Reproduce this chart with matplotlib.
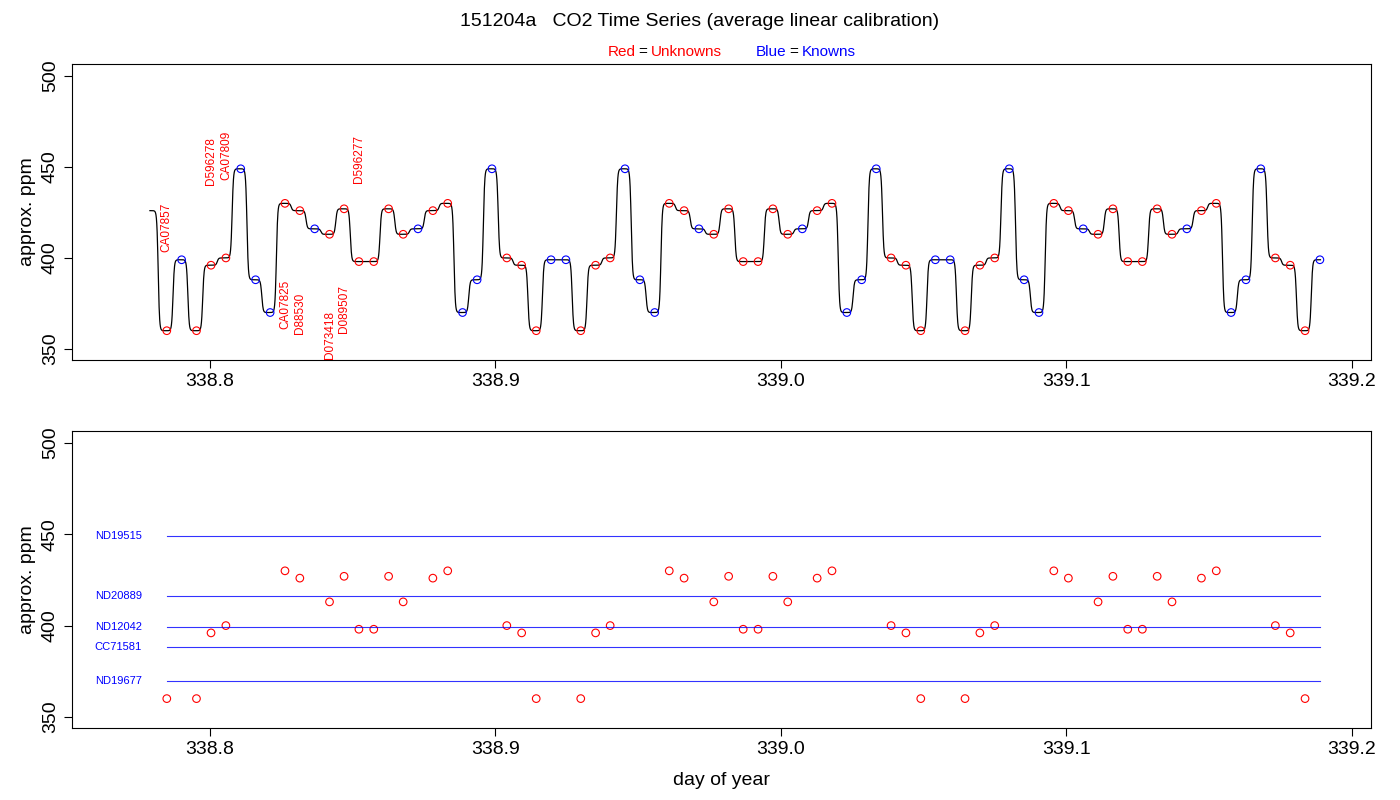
import numpy as np
import matplotlib.pyplot as plt

plt.rcParams["font.family"] = "Liberation Sans"

# sample times (day of year), end of each plateau
times = [
    338.7849, 338.7901, 338.7953, 338.8004, 338.8056, 338.8108, 338.8160, 338.8211,
    338.8263, 338.8315, 338.8367, 338.8419, 338.8470, 338.8522, 338.8574, 338.8626,
    338.8677, 338.8729, 338.8781, 338.8833, 338.8885, 338.8936, 338.8988, 338.9040,
    338.9092, 338.9143, 338.9195, 338.9247, 338.9299, 338.9351, 338.9402, 338.9454,
    338.9506, 338.9558, 338.9609, 338.9661, 338.9713, 338.9765, 338.9817, 338.9868,
    338.9920, 338.9972, 339.0024, 339.0075, 339.0127, 339.0179, 339.0231, 339.0283,
    339.0334, 339.0386, 339.0438, 339.0490, 339.0541, 339.0593, 339.0645, 339.0697,
    339.0749, 339.0800, 339.0852, 339.0904, 339.0956, 339.1007, 339.1059, 339.1111,
    339.1163, 339.1215, 339.1266, 339.1318, 339.1370, 339.1422, 339.1473, 339.1525,
    339.1577, 339.1629, 339.1681, 339.1732, 339.1784, 339.1836, 339.1888,
]
ppm = [
    360, 399, 360, 396, 400, 449, 388, 370, 430, 426, 416, 413, 427, 398, 398, 427,
    413, 416, 426, 430, 370, 388, 449, 400, 396, 360, 399, 399, 360, 396, 400, 449,
    388, 370, 430, 426, 416, 413, 427, 398, 398, 427, 413, 416, 426, 430, 370, 388,
    449, 400, 396, 360, 399, 399, 360, 396, 400, 449, 388, 370, 430, 426, 416, 413,
    427, 398, 398, 427, 413, 416, 426, 430, 370, 388, 449, 400, 396, 360, 399,
]
is_known = [
    0, 1, 0, 0, 0, 1, 1, 1, 0, 0, 1, 0, 0, 0, 0, 0,
    0, 1, 0, 0, 1, 1, 1, 0, 0, 0, 1, 1, 0, 0, 0, 1,
    1, 1, 0, 0, 1, 0, 0, 0, 0, 0, 0, 1, 0, 0, 1, 1,
    1, 0, 0, 0, 1, 1, 0, 0, 0, 1, 1, 1, 0, 0, 1, 0,
    0, 0, 0, 0, 0, 1, 0, 0, 1, 1, 1, 0, 0, 0, 1,
]
trace_start = 426.0

known_names = ["ND19515", "ND20889", "ND12042", "CC71581", "ND19677"]
known_ppm = [449.2, 416.3, 399.3, 388.3, 369.7]

label_names = ["CA07857", "D596278", "CA07809", "D596277",
               "CA07825", "D88530", "D073418", "D089507"]
label_x = [338.7849, 338.8004, 338.8056, 338.8522,
           338.8263, 338.8315, 338.8419, 338.8470]
label_y = [403, 440, 443, 441, 388, 381, 371, 385]
label_above = [True, True, True, True, False, False, False, False]

t = np.array(times)
y = np.array(ppm, dtype=float)
known = np.array(is_known, dtype=bool)

# continuous trace: smooth steps between plateaus
dt = np.median(np.diff(t))
tt = np.linspace(338.779, t[-1] + 0.0002, 6000)
trace = np.full_like(tt, trace_start)
start = np.r_[t[0] - dt, t[:-1]]
prev = np.r_[trace_start, y[:-1]]
for s, p, v in zip(start, prev, y):
    step = 1 / (1 + np.exp(-(tt - (s + 0.42 * dt)) / (0.045 * dt)))
    trace = np.where(tt > s, p + (v - p) * step, trace)

fig = plt.figure(figsize=(14, 8), dpi=100)
ax1 = fig.add_axes([72 / 1400, 1 - 360 / 800, 1299 / 1400, 296 / 800])
ax2 = fig.add_axes([72 / 1400, 1 - 728 / 800, 1299 / 1400, 297 / 800])

ax1.plot(tt, trace, color="black", lw=0.9)
ax1.scatter(t[~known], y[~known], s=30, facecolors="none", edgecolors="red", lw=0.8, zorder=3)
ax1.scatter(t[known], y[known], s=30, facecolors="none", edgecolors="blue", lw=0.8, zorder=3)
for name, lx, ly, up in zip(label_names, label_x, label_y, label_above):
    ax1.text(lx, ly, name, rotation=90, color="red", fontsize=8.5,
             ha="center", va="bottom" if up else "top")

for kp, kn in zip(known_ppm, known_names):
    ax2.plot([t[0], t[-1]], [kp, kp], color="blue", lw=0.8, alpha=0.8)
    ax2.text(338.7597, kp, kn, color="blue", fontsize=8, ha="left", va="center")
ax2.scatter(t[~known], y[~known], s=30, facecolors="none", edgecolors="red", lw=0.8)

for ax in (ax1, ax2):
    ax.set_xlim(338.7517, 339.2067)
    ax.set_ylim(343.9, 506.6)
    ax.set_xticks([338.8, 338.9, 339.0, 339.1, 339.2])
    ax.set_xticklabels(["338.8", "338.9", "339.0", "339.1", "339.2"])
    ax.set_yticks([350, 400, 450, 500])
    ax.set_yticklabels(["350", "400", "450", "500"], rotation=90, va="center")
    ax.tick_params(labelsize=14, length=6)
    ax.set_ylabel("approx. ppm", fontsize=14)
    for sp in ax.spines.values():
        sp.set_linewidth(0.8)

ax2.set_xlabel("day of year", fontsize=14, labelpad=10)

fig.text(0.5, 1 - 22 / 800, "151204a   CO2 Time Series (average linear calibration)",
         ha="center", va="center", fontsize=14)
fig.text(608 / 1400, 1 - 52 / 800, "Red", color="red", fontsize=11, va="center")
fig.text(638 / 1400, 1 - 52 / 800, "=", color="black", fontsize=11, va="center")
fig.text(651 / 1400, 1 - 52 / 800, "Unknowns", color="red", fontsize=11, va="center")
fig.text(756 / 1400, 1 - 52 / 800, "Blue", color="blue", fontsize=11, va="center")
fig.text(789 / 1400, 1 - 52 / 800, "=", color="black", fontsize=11, va="center")
fig.text(802 / 1400, 1 - 52 / 800, "Knowns", color="blue", fontsize=11, va="center")

fig.savefig("out.png", dpi=100)
